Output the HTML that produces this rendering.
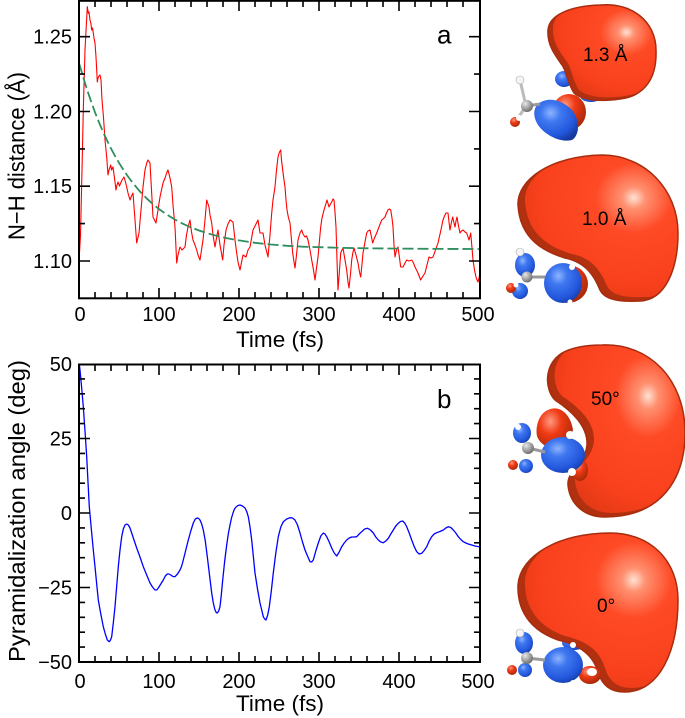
<!DOCTYPE html>
<html><head><meta charset="utf-8"><style>
html,body{margin:0;padding:0;background:#fff}
svg{display:block}
text{font-family:"Liberation Sans",Arial,sans-serif;fill:#000}
</style></head><body>
<svg width="685" height="718" viewBox="0 0 685 718" xmlns="http://www.w3.org/2000/svg">
<defs>
<radialGradient id="rg" cx="0.68" cy="0.32" r="0.75">
<stop offset="0" stop-color="#ffe2d4"/>
<stop offset="0.1" stop-color="#ff9070"/>
<stop offset="0.32" stop-color="#ff4a26"/>
<stop offset="0.8" stop-color="#f8401c"/>
<stop offset="1" stop-color="#e63a16"/>
</radialGradient>
<radialGradient id="bg" cx="0.38" cy="0.32" r="0.75">
<stop offset="0" stop-color="#8fb4ff"/>
<stop offset="0.3" stop-color="#3f78f0"/>
<stop offset="0.75" stop-color="#2256dc"/>
<stop offset="1" stop-color="#143a9e"/>
</radialGradient>
<radialGradient id="rs" cx="0.38" cy="0.3" r="0.75">
<stop offset="0" stop-color="#ff9a80"/>
<stop offset="0.4" stop-color="#f03a15"/>
<stop offset="1" stop-color="#a02808"/>
</radialGradient>
<radialGradient id="gs" cx="0.35" cy="0.3" r="0.7">
<stop offset="0" stop-color="#e8e8e8"/>
<stop offset="1" stop-color="#707070"/>
</radialGradient>
<clipPath id="cpa"><rect x="79" y="0" width="401" height="298"/></clipPath>
<clipPath id="cpb"><rect x="79" y="364" width="401" height="298"/></clipPath>
<clipPath id="cb1"><path d="M600 5 C632 2,656 22,656 50 C657 78,645 96,620 99 C600 102,582 100,574 93 C567 82,567 72,562 65 C555 55,547 45,548 30 C549 15,570 6,600 5 Z"/></clipPath>
<clipPath id="cb2"><path d="M602 155 C645 155,678 190,678 233 C678 270,665 300,640 301 C620 302,605 300,600 290 C594 275,585 262,565 258 C545 252,520 240,518 205 C517 180,550 156,602 155 Z"/></clipPath>
<clipPath id="cb3"><path d="M602 345 C650 343,684 380,685 430 C686 480,660 517,605 517 C585 517,570 505,568 485 C567 470,585 465,587 445 C588 425,570 410,555 400 C545 390,543 365,562 353 C575 346,590 345,602 345 Z"/></clipPath>
<clipPath id="cb4"><path d="M610 533 C650 533,678 560,678 600 C678 650,660 692,625 692 C610 692,602 685,598 672 C593 655,580 645,558 640 C535 632,517 615,518 585 C520 555,560 533,610 533 Z"/></clipPath>
</defs>
<rect width="685" height="718" fill="#fff"/>

<!-- ========== PANEL A ========== -->
<g clip-path="url(#cpa)">
<polyline fill="none" stroke="#ff0000" stroke-width="1.1" stroke-linejoin="round" points="79.5,253 80.5,235 82,170 83.3,110 85,50 87.3,6.7 88.3,13.3 89,12 90,20 91,24 91.7,30 92.5,28 93.3,33 94,38 95,43 96,57 96.7,70 97.3,82 98,78 99,76 100,75 101,80 102,100 103.3,115 104,125 105,140 106.7,157 108,175 109,170 110.7,165 111.5,170 113,167 114.5,178 116,190 117,185 118,182 119.5,186 120.7,183 122,180 124,177 125.5,182 126.7,187 128,193 130,200 131.5,196 133,193 135,220 136.7,243 139,233 141,210 143,187 145,170 146.7,163 148,160 150,163 151.5,190 153,217 156,223 158,210 160,197 161.5,190 163,183 165,178 166.7,173 168,170 170,178 171.7,187 173,205 175,227 176.7,263 178,255 180,247 182,250 185,247 186.5,235 188,227 190,220 191.5,232 193,240 195,245 196.7,250 198,255 200,260 201.5,250 203,240 205,220 206.7,200 209,207 210,215 211.7,223 213,235 215,247 216.5,238 218,230 220,245 222.7,260 224,245 226,230 228,224 230,220 233,222 235,240 236.7,253 238,262 240,270 243,255 246,257 248,250 250,247 253,230 255.5,225 258,220 260,233 263,233 265,245 268,257 270,235 271.7,213 273,200 275,187 276.5,170 278,157 279.5,152 280.7,150 281.5,160 282.7,170 284,180 285,187 286,200 287,210 288.5,218 290,223 291.5,240 292.7,253 294,262 295,268 296.5,255 298,240 300,233 301.7,230 303,234 305,237 306.5,236 308,240 310,250 311.7,260 313.5,270 315,280 316.5,268 318,257 319.5,240 320.7,227 322,218 324,210 325.5,205 327,200 329,207 330.5,204 331.7,202 333,199 334,200 335,212 336,227 337,260 338,290 339.5,270 340.7,253 342,250 343,248 345,260 346.7,270 348,282 349,288 350.5,274 351.7,260 353,252 354,248 356,255 358,263 359.5,272 360.7,277 362,264 363,253 365,242 366.7,233 368,231 370,230 371.5,237 372.7,243 374.5,238 376.7,233 379,227 381.7,220 383,219 385,217 386.5,213 388,210 389.5,209 390.7,210 392,218 393,227 394,245 395,257 396.5,250 398,247 399.5,258 400.7,267 403,267 405,263 406.7,260 409,261 411.7,260 413.5,263 415,267 416.5,270 418,273 419.5,277 420.7,280 423,276 425,273 427,265 429,257 431,258 433,257 435.5,250 438,243 440.5,232 443,220 444.5,216 446,213 448,213 449,222 450,230 451.5,222 452.7,217 454,223 455,227 456,221 457,217 458.5,226 460,233 461.5,231 463,230 465,232 466.7,233 468,237 469,240 470,236 470.7,233 472,248 473,260 474.5,270 476,277 477,280 478,282 479,278 480,273"/>
<polyline fill="none" stroke="#2e8f5e" stroke-width="1.8" stroke-dasharray="11 4" points="79,63 83,76.5 87,89.5 91,101.2 95,112.3 99,122.3 103,131.8 107,140.4 111,148.5 115,155.9 119,162.8 123,169.2 127,175.1 131,180.6 135,185.6 139,190.4 143,194.7 147,198.7 151,202.4 159,209.1 167,214.7 175,219.6 183,223.8 191,227.4 199,230.5 207,233.1 215,235.4 223,237.3 231,239 239,240.4 255,242.8 271,244.5 287,245.8 303,246.7 319,247.2 343,247.9 367,248.3 399,248.6 439,248.9 480,249"/>
</g>
<rect x="79" y="0.8" width="401" height="297.5" fill="none" stroke="#000" stroke-width="2"/>
<g stroke="#000" stroke-width="1.6">
<path d="M79 298V288M95 298V292M111 298V292M127 298V292M143 298V292M159 298V288M175 298V292M191 298V292M207 298V292M223 298V292M239 298V288M255 298V292M271 298V292M287 298V292M303 298V292M319 298V288M335 298V292M351 298V292M367 298V292M383 298V292M399 298V288M415 298V292M431 298V292M447 298V292M463 298V292"/>
<path d="M95 1V7M111 1V7M127 1V7M143 1V7M159 1V11M175 1V7M191 1V7M207 1V7M223 1V7M239 1V11M255 1V7M271 1V7M287 1V7M303 1V7M319 1V11M335 1V7M351 1V7M367 1V7M383 1V7M399 1V11M415 1V7M431 1V7M447 1V7M463 1V7"/>
<path d="M79 261H90M79 223.6H85M79 186.2H90M79 148.9H85M79 111.5H90M79 74.1H85M79 36.7H90"/>
<path d="M480 261H469M480 223.6H474M480 186.2H469M480 148.9H474M480 111.5H469M480 74.1H474M480 36.7H469"/>
</g>
<g font-size="20" text-anchor="end">
<text x="72" y="268">1.10</text>
<text x="72" y="193.2">1.15</text>
<text x="72" y="118.5">1.20</text>
<text x="72" y="43.7">1.25</text>
</g>
<g font-size="20" text-anchor="middle">
<text x="80" y="321">0</text>
<text x="159" y="321">100</text>
<text x="239" y="321">200</text>
<text x="319" y="321">300</text>
<text x="399" y="321">400</text>
<text x="478" y="321">500</text>
</g>
<text x="280" y="347" font-size="22.5" text-anchor="middle" textLength="88" lengthAdjust="spacingAndGlyphs">Time (fs)</text>
<text transform="translate(24.5,156) rotate(-90)" font-size="23" text-anchor="middle" textLength="168" lengthAdjust="spacingAndGlyphs">N−H distance (Å)</text>
<text x="437" y="43.5" font-size="26">a</text>

<!-- ========== PANEL B ========== -->
<g clip-path="url(#cpb)">
<polyline fill="none" stroke="#0000ff" stroke-width="1.3" stroke-linejoin="round" points="79.5,366 80,370 81.5,386 83.3,406.7 85,431 86.7,456.7 88,482 89.3,506.7 90.5,520 91.7,533 93.3,550 95,566.7 96.7,584 98.3,600 100.8,614 103.3,626.7 105.3,634 107.3,640 109.3,641.7 110.5,640 111.7,636.7 113.3,623 115,606.7 116.7,586 118.3,566.7 120,550 121.7,536.7 123.3,529 125,525 126.7,524 128.3,525 130,528 131.7,533 134,540 136.7,548 140,557 143.3,566.7 146.7,575 150,583 152.5,587 155,590 156.7,590 158.3,588 160.8,584 163.3,580 165.3,576 167.3,574 169,574 170.7,575 173,576.5 175,576.7 177.5,574 180,570 181.7,566 183.3,560 185.8,550 188.3,540 190.8,531 193.3,523 195.3,519 197.3,518 198.7,518.5 200,520 201.7,524 203.3,530 205.3,541 207.3,556.7 209.5,575 211.7,593 213.3,603 215,610 216.2,612.5 217.3,613 218.7,611 220,606.7 221.3,595 222.7,580 224.7,561 226.7,545 228.3,534 230,525 231.5,518 233,513 234.5,509 236,507 238,505.5 240,505 242.5,506 245,508 246.7,511.5 248.3,516.7 250,527 251.7,540 253.3,556 255,573 257.5,589 260,603 261.7,610 263.3,616.7 264.7,619 266,620 267.7,615 269.3,606.7 271.3,591 273.3,573 275.8,553 278.3,536.7 280.8,527 283.3,521.7 286.7,519 290,517.7 292.5,518 295,520 297.5,525 300,533 302.5,542 305,550 307.5,556 310,561.7 311.7,562 313.3,560 315.8,551 318.3,543 320.8,536 323.3,533 325,534 326.7,536.7 329.2,542 331.7,548 334.2,553 336.7,556 339.2,552 341.7,546.7 344.2,543 346.7,540 349.2,538 351.7,537 354.2,537 356.7,536.7 359.2,534 361.7,531.7 364.7,529 367.7,528.3 370.5,530 373.3,533 375.8,537 378.3,540 380.8,542 383.3,542.7 385.8,541 388.3,538.3 390.8,534 393.3,530 395.8,526 398.3,523.3 400.5,521.5 402.7,521 404.7,523 406.7,526.7 409.2,533 411.7,540 414.2,546.5 416.7,551.7 419.2,554 421.7,553.3 424.2,550.5 426.7,546.7 429.2,541 431.7,536.7 434.2,534 436.7,532.7 440,531.5 443.3,530 445.8,528 448.3,526.7 450.8,527.5 453.3,530 455.8,533 458.3,536.7 460.8,539.5 463.3,541.7 465.8,543 468.3,544 471.7,545 475,546 477.5,546.5 480,546.7"/>
</g>
<rect x="79" y="364.5" width="401" height="297.5" fill="none" stroke="#000" stroke-width="2"/>
<g stroke="#000" stroke-width="1.6">
<path d="M79 662V652M95 662V656M111 662V656M127 662V656M143 662V656M159 662V652M175 662V656M191 662V656M207 662V656M223 662V656M239 662V652M255 662V656M271 662V656M287 662V656M303 662V656M319 662V652M335 662V656M351 662V656M367 662V656M383 662V656M399 662V652M415 662V656M431 662V656M447 662V656M463 662V656"/>
<path d="M95 364.5V371M111 364.5V371M127 364.5V371M143 364.5V371M159 364.5V375M175 364.5V371M191 364.5V371M207 364.5V371M223 364.5V371M239 364.5V375M255 364.5V371M271 364.5V371M287 364.5V371M303 364.5V371M319 364.5V375M335 364.5V371M351 364.5V371M367 364.5V371M383 364.5V371M399 364.5V375M415 364.5V371M431 364.5V371M447 364.5V371M463 364.5V371"/>
<path d="M79 378.9H85M79 393.8H85M79 408.7H85M79 423.6H85M79 438.5H90M79 453.4H85M79 468.3H85M79 483.2H85M79 498.1H85M79 513H90M79 527.9H85M79 542.8H85M79 557.7H85M79 572.6H85M79 587.5H90M79 602.4H85M79 617.3H85M79 632.2H85M79 647.1H85"/>
<path d="M480 378.9H474M480 393.8H474M480 408.7H474M480 423.6H474M480 438.5H469M480 453.4H474M480 468.3H474M480 483.2H474M480 498.1H474M480 513H469M480 527.9H474M480 542.8H474M480 557.7H474M480 572.6H474M480 587.5H469M480 602.4H474M480 617.3H474M480 632.2H474M480 647.1H474"/>
</g>
<g font-size="20" text-anchor="end">
<text x="72" y="371">50</text>
<text x="72" y="445.5">25</text>
<text x="72" y="520">0</text>
<text x="72" y="594.5">−25</text>
<text x="72" y="669">−50</text>
</g>
<g font-size="20" text-anchor="middle">
<text x="80" y="688">0</text>
<text x="159" y="688">100</text>
<text x="239" y="688">200</text>
<text x="319" y="688">300</text>
<text x="399" y="688">400</text>
<text x="478" y="688">500</text>
</g>
<text x="280" y="711" font-size="22.5" text-anchor="middle" textLength="88" lengthAdjust="spacingAndGlyphs">Time (fs)</text>
<text transform="translate(25,511) rotate(-90)" font-size="23" text-anchor="middle" textLength="302" lengthAdjust="spacingAndGlyphs">Pyramidalization angle (deg)</text>
<text x="437" y="408" font-size="26">b</text>

<!-- ========== MOLECULE 1 (1.3 Å) ========== -->
<g>
<ellipse cx="564" cy="79" rx="9" ry="8" fill="url(#bg)"/>
<ellipse cx="591" cy="96" rx="11" ry="6" fill="url(#bg)"/>
<path d="M600 5 C632 2,656 22,656 50 C657 78,645 96,620 99 C600 102,582 100,574 93 C567 82,567 72,562 65 C555 55,547 45,548 30 C549 15,570 6,600 5 Z" fill="#b0300f"/>
<g clip-path="url(#cb1)"><path transform="translate(5,-3)" d="M600 5 C632 2,656 22,656 50 C657 78,645 96,620 99 C600 102,582 100,574 93 C567 82,567 72,562 65 C555 55,547 45,548 30 C549 15,570 6,600 5 Z" fill="url(#rg)"/></g>
<path d="M600 5 C632 2,656 22,656 50 C657 78,645 96,620 99 C600 102,582 100,574 93 C567 82,567 72,562 65 C555 55,547 45,548 30 C549 15,570 6,600 5 Z" fill="none" stroke="#a82c0e" stroke-width="1.5"/>
<ellipse cx="569" cy="112" rx="17" ry="18" fill="url(#rs)"/>
<path d="M538 104 C548 96,562 100,572 110 C580 120,580 135,572 140 C560 143,545 135,538 125 C533 117,533 109,538 104 Z" fill="url(#bg)"/>
<line x1="520" y1="80" x2="526" y2="106" stroke="#bbb" stroke-width="3"/>
<line x1="526" y1="106" x2="516" y2="121" stroke="#bbb" stroke-width="3"/>
<line x1="526" y1="106" x2="540" y2="104" stroke="#999" stroke-width="3"/>
<circle cx="520" cy="80" r="4" fill="#f4f4f4" stroke="#aaa" stroke-width="0.6"/>
<circle cx="527" cy="106" r="6" fill="url(#gs)"/>
<circle cx="515" cy="122" r="5" fill="url(#rs)"/>
<circle cx="519" cy="118" r="3" fill="#fff"/>
<text x="583" y="61" font-size="19">1.3 Å</text>
</g>

<!-- ========== MOLECULE 2 (1.0 Å) ========== -->
<g>
<path d="M602 155 C645 155,678 190,678 233 C678 270,665 300,640 301 C620 302,605 300,600 290 C594 275,585 262,565 258 C545 252,520 240,518 205 C517 180,550 156,602 155 Z" fill="#b0300f"/>
<g clip-path="url(#cb2)"><path transform="translate(7,-4)" d="M602 155 C645 155,678 190,678 233 C678 270,665 300,640 301 C620 302,605 300,600 290 C594 275,585 262,565 258 C545 252,520 240,518 205 C517 180,550 156,602 155 Z" fill="url(#rg)"/></g>
<path d="M602 155 C645 155,678 190,678 233 C678 270,665 300,640 301 C620 302,605 300,600 290 C594 275,585 262,565 258 C545 252,520 240,518 205 C517 180,550 156,602 155 Z" fill="none" stroke="#a82c0e" stroke-width="1.5"/>
<ellipse cx="568" cy="284" rx="20" ry="19" fill="url(#rs)"/>
<ellipse cx="563" cy="283" rx="19" ry="20" fill="url(#bg)"/>
<circle cx="572" cy="267" r="3" fill="#fff"/>
<circle cx="570" cy="302" r="2.5" fill="#fff"/>
<ellipse cx="525" cy="265" rx="10" ry="12" fill="url(#bg)"/>
<ellipse cx="520" cy="291" rx="8" ry="8" fill="url(#bg)"/>
<circle cx="511" cy="288" r="5" fill="url(#rs)"/>
<line x1="527" y1="277" x2="545" y2="277" stroke="#999" stroke-width="3"/>
<circle cx="520" cy="252" r="4" fill="#f4f4f4" stroke="#aaa" stroke-width="0.6"/>
<circle cx="527" cy="277" r="5.5" fill="url(#gs)"/>
<circle cx="516" cy="285" r="2.5" fill="#fff"/>
<text x="582" y="225" font-size="19">1.0 Å</text>
</g>

<!-- ========== MOLECULE 3 (50°) ========== -->
<g>
<path d="M548 410 C560 404,571 415,573 430 L566 452 C555 452,540 446,537 436 C535 425,540 413,548 410 Z" fill="url(#rs)"/>
<path d="M602 345 C650 343,684 380,685 430 C686 480,660 517,605 517 C585 517,570 505,568 485 C567 470,585 465,587 445 C588 425,570 410,555 400 C545 390,543 365,562 353 C575 346,590 345,602 345 Z" fill="#b0300f"/>
<g clip-path="url(#cb3)"><path transform="translate(7,-4)" d="M602 345 C650 343,684 380,685 430 C686 480,660 517,605 517 C585 517,570 505,568 485 C567 470,585 465,587 445 C588 425,570 410,555 400 C545 390,543 365,562 353 C575 346,590 345,602 345 Z" fill="url(#rg)"/></g>
<path d="M602 345 C650 343,684 380,685 430 C686 480,660 517,605 517 C585 517,570 505,568 485 C567 470,585 465,587 445 C588 425,570 410,555 400 C545 390,543 365,562 353 C575 346,590 345,602 345 Z" fill="none" stroke="#a82c0e" stroke-width="1.5"/>
<ellipse cx="580" cy="470" rx="8" ry="11" fill="url(#rs)"/>
<ellipse cx="563" cy="455" rx="22" ry="18" fill="url(#bg)"/>
<circle cx="570" cy="435" r="4" fill="#fff"/>
<circle cx="572" cy="472" r="4" fill="#fff"/>
<ellipse cx="522" cy="433" rx="9" ry="10" fill="url(#bg)"/>
<ellipse cx="526" cy="466" rx="7" ry="7" fill="url(#bg)"/>
<circle cx="513" cy="465" r="5" fill="url(#rs)"/>
<line x1="528" y1="448" x2="545" y2="452" stroke="#999" stroke-width="3"/>
<circle cx="518" cy="427" r="3" fill="#fff"/>
<circle cx="528" cy="448" r="6" fill="url(#gs)"/>
<text x="591" y="405" font-size="19">50°</text>
</g>

<!-- ========== MOLECULE 4 (0°) ========== -->
<g>
<ellipse cx="574" cy="643" rx="12" ry="7" fill="url(#bg)"/>
<path d="M610 533 C650 533,678 560,678 600 C678 650,660 692,625 692 C610 692,602 685,598 672 C593 655,580 645,558 640 C535 632,517 615,518 585 C520 555,560 533,610 533 Z" fill="#b0300f"/>
<g clip-path="url(#cb4)"><path transform="translate(7,-4)" d="M610 533 C650 533,678 560,678 600 C678 650,660 692,625 692 C610 692,602 685,598 672 C593 655,580 645,558 640 C535 632,517 615,518 585 C520 555,560 533,610 533 Z" fill="url(#rg)"/></g>
<path d="M610 533 C650 533,678 560,678 600 C678 650,660 692,625 692 C610 692,602 685,598 672 C593 655,580 645,558 640 C535 632,517 615,518 585 C520 555,560 533,610 533 Z" fill="none" stroke="#a82c0e" stroke-width="1.5"/>
<ellipse cx="590" cy="675" rx="11" ry="9" fill="url(#rs)"/>
<ellipse cx="592" cy="672" rx="5" ry="4" fill="#fff"/>
<ellipse cx="563" cy="665" rx="20" ry="18" fill="url(#bg)"/>
<circle cx="573" cy="645" r="3" fill="#fff"/>
<circle cx="573" cy="683" r="3" fill="#fff"/>
<ellipse cx="524" cy="643" rx="9" ry="11" fill="url(#bg)"/>
<ellipse cx="525" cy="670" rx="7" ry="7" fill="url(#bg)"/>
<circle cx="512" cy="670" r="5" fill="url(#rs)"/>
<line x1="527" y1="658" x2="545" y2="660" stroke="#999" stroke-width="3"/>
<circle cx="520" cy="633" r="4" fill="#f4f4f4" stroke="#aaa" stroke-width="0.6"/>
<circle cx="527" cy="658" r="6" fill="url(#gs)"/>
<text x="597" y="612" font-size="19">0°</text>
</g>
</svg>
</body></html>
